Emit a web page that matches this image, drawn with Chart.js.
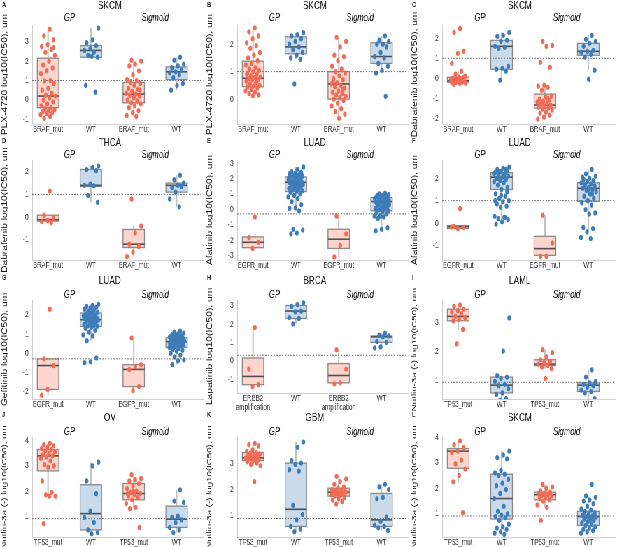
<!DOCTYPE html>
<html>
<head>
<meta charset="utf-8">
<script src="https://cdn.jsdelivr.net/npm/chart.js@4.4.0/dist/chart.umd.min.js"></script>
<style>
  body { margin: 0; background: #fff; overflow: hidden; }
  /* the figure is drawn wide and squeezed horizontally, like the source image */
  #wrap { position: absolute; left: 0; top: 0; width: 882px; height: 547px; transform: scaleX(0.6996); transform-origin: 0 0; }
  #wrap canvas { position: absolute; }
</style>
</head>
<body>
<div id="wrap"></div>
<script>
const panelLetters = ['A', 'B', 'C', 'D', 'E', 'F', 'G', 'H', 'I', 'J', 'K', 'L'];
const panelTitles = ['SKCM', 'SKCM', 'SKCM', 'THCA', 'LUAD', 'LUAD', 'LUAD', 'BRCA', 'LAML', 'OV', 'GBM', 'SKCM'];
const yTitles = [
  'PLX-4720 log10(IC50), um', 'PLX-4720 log10(IC50), um',
  'Dabrafenib log10(IC50), um', 'Dabrafenib log10(IC50), um',
  'Afatinib log10(IC50), um', 'Afatinib log10(IC50), um',
  'Gefitinib log10(IC50), um', 'Lapatinib log10(IC50), um',
  'Nutlin-3a (-) log10(IC50), um', 'Nutlin-3a (-) log10(IC50), um',
  'Nutlin-3a (-) log10(IC50), um', 'Nutlin-3a (-) log10(IC50), um'
];
const refLevels = [1, 1, 1, 1, -0.3, 1, -0.3, 0.3, 0.92, 0.9, 0.9, 0.92];
const yRanges = [
  [-1.24, 3.86], [-0.91, 2.7], [-2.3, 2.67], [-1.9, 2.52],
  [-3.3, 3.2], [-1.66, 2.82], [-2.4, 2.78], [-1.75, 3.3],
  [0.34, 3.77], [0.17, 4.15], [0.2, 3.99], [0.1, 4.0]
];
const facetNames = ['GP', 'Sigmoid'];
const brafLabels = ['BRAF_mut', 'WT', 'BRAF_mut', 'WT'];
const egfrLabels = ['EGFR_mut', 'WT', 'EGFR_mut', 'WT'];
const erbb2Labels = [['ERBB2', 'amplification'], 'WT', ['ERBB2', 'amplification'], 'WT'];
const tp53Labels = ['TP53_mut', 'WT', 'TP53_mut', 'WT'];
const xLabelSets = [brafLabels, brafLabels, brafLabels, brafLabels, egfrLabels, egfrLabels, egfrLabels,
  erbb2Labels, tp53Labels, tp53Labels, tp53Labels, tp53Labels];

// box stats per group: [lower whisker, q1, median, q3, upper whisker]
const boxesA = [[-0.9, -0.4, 0.2, 2.15, 3.65], [2.2, 2.2, 2.55, 2.8, 3.7], [-0.85, -0.15, 0.3, 0.9, 2.05], [0.5, 1.05, 1.45, 1.7, 2.2]];
const boxesB = [[0.12, 0.45, 0.76, 1.38, 2.6], [1.45, 1.65, 1.9, 2.27, 2.42], [-0.7, 0.0, 0.55, 1.0, 2.25], [0.95, 1.3, 1.55, 2.05, 2.3]];
const boxesC = [[-0.3, -0.2, -0.13, 0.05, 0.35], [-0.1, 0.45, 1.6, 1.9, 2.3], [-2.05, -1.5, -1.35, -0.8, -0.35], [0.4, 1.15, 1.35, 1.75, 2.15]];
const boxesD = [[-0.25, -0.18, -0.12, 0.08, 0.08], [0.65, 1.35, 1.4, 2.1, 2.25], [-1.75, -1.35, -1.2, -0.55, -0.4], [0.45, 1.1, 1.4, 1.5, 1.85]];
const boxesE = [[-2.55, -2.5, -2.15, -1.8, -1.8], [-0.1, 1.15, 1.75, 2.1, 2.75], [-3.1, -2.55, -1.95, -1.3, -0.45], [-1.3, -0.1, 0.5, 0.75, 1.05]];
const boxesF = [[-0.25, -0.25, -0.17, -0.12, -0.12], [-0.05, 1.5, 2.05, 2.25, 2.5], [-1.5, -1.45, -1.15, -0.6, 0.35], [-0.4, 0.97, 1.55, 1.8, 2.4]];
const boxesG = [[-2.2, -1.9, -0.65, -0.3, -0.3], [0.65, 1.4, 1.75, 2.1, 2.55], [-1.95, -1.75, -0.85, -0.6, 0.8], [-0.6, 0.3, 0.6, 0.8, 1.15]];
const boxesH = [[-1.4, -1.3, -0.85, 0.15, 1.8], [2.0, 2.3, 2.7, 3.0, 3.15], [-1.25, -1.2, -0.8, -0.15, 0.6], [0.7, 1.0, 1.3, 1.35, 1.5]];
const boxesI = [[2.75, 3.05, 3.2, 3.45, 3.6], [0.3, 0.55, 0.82, 1.1, 1.15], [1.4, 1.5, 1.55, 1.7, 2.05], [0.25, 0.6, 0.82, 0.9, 1.35]];
const boxesJ = [[1.8, 2.8, 3.4, 3.65, 3.9], [0.3, 0.45, 1.1, 2.25, 3.15], [1.3, 1.65, 1.9, 2.3, 2.65], [0.35, 0.55, 0.88, 1.4, 2.05]];
const boxesK = [[2.9, 3.1, 3.2, 3.4, 3.75], [0.4, 0.6, 1.25, 3.0, 3.8], [1.45, 1.75, 1.9, 2.05, 2.5], [0.45, 0.6, 0.85, 1.85, 2.2]];
const boxesL = [[2.25, 2.78, 3.45, 3.55, 3.85], [0.2, 0.8, 1.6, 2.55, 3.45], [1.25, 1.55, 1.75, 1.85, 2.15], [0.25, 0.55, 0.9, 1.1, 1.7]];

// cell line values per group: mut (GP), WT (GP), mut (Sigmoid), WT (Sigmoid)
const pointsA = [
  [3.65, 3.3, 3.1, 2.85, 2.75, 2.6, 2.45, 2.3, 2.0, 1.8, 1.65, 1.5, 1.35, 1.0, 0.98, 0.85, 0.6, 0.5, 0.35, 0.25, 0.2, 0.1, 0.0, -0.1, -0.2, -0.3, -0.4, -0.45, -0.5, -0.55, -0.6, -0.65, -0.7, -0.75, -0.85, -0.95, 2.7],
  [3.7, 3.1, 2.95, 2.8, 2.65, 2.55, 2.45, 2.3, 2.2, 2.25, 0.75, 0.4],
  [2.05, 2.0, 1.85, 1.75, 1.5, 1.3, 1.05, 1.0, 0.95, 0.85, 0.75, 0.6, 0.55, 0.45, 0.35, 0.3, 0.25, 0.2, 0.1, 0.0, -0.05, -0.15, -0.2, -0.3, -0.4, -0.55, -0.65, -0.8, -0.85, 0.9, 0.5, 0.15],
  [2.2, 2.05, 1.85, 1.75, 1.65, 1.55, 1.45, 1.4, 1.3, 1.15, 0.85, 0.75, 0.5]
];
const pointsB = [
  [2.6, 2.45, 2.3, 2.2, 2.05, 1.95, 1.85, 1.7, 1.6, 1.5, 1.4, 1.3, 1.25, 1.15, 1.1, 1.05, 1.0, 0.95, 0.9, 0.85, 0.8, 0.78, 0.75, 0.72, 0.7, 0.65, 0.6, 0.55, 0.5, 0.48, 0.45, 0.4, 0.35, 0.3, 0.25, 0.2, 0.15, 0.12, 0.9, 0.65],
  [2.42, 2.35, 2.3, 2.2, 2.1, 2.0, 1.9, 1.8, 1.7, 1.6, 1.5, 1.45, 0.55],
  [2.25, 2.1, 1.9, 1.6, 1.55, 1.4, 1.2, 1.1, 1.0, 0.95, 0.85, 0.75, 0.7, 0.6, 0.55, 0.5, 0.45, 0.4, 0.3, 0.25, 0.2, 0.15, 0.1, 0.05, 0.0, -0.05, -0.15, -0.25, -0.35, -0.45, -0.55, -0.7, 0.65, 0.35],
  [2.3, 2.15, 2.1, 2.0, 2.0, 1.9, 1.7, 1.55, 1.5, 1.3, 1.2, 1.05, 0.95, 0.1]
];
const pointsC = [
  [2.5, 2.3, 1.35, 1.25, 0.75, 0.35, 0.2, 0.1, 0.05, 0.0, 0.0, -0.05, -0.05, -0.1, -0.1, -0.15, -0.15, -0.2, -0.2, -0.2, -0.25, -0.25, -0.3, 0.02, -0.12, -0.18, -0.08, -0.22],
  [2.3, 2.15, 2.1, 1.9, 1.85, 1.6, 1.55, 1.5, 0.6, 0.5, 0.45, 0.35, -0.1],
  [1.85, 1.65, 1.6, 0.8, 0.55, -0.35, -0.4, -0.45, -0.6, -0.9, -0.95, -1.05, -1.1, -1.15, -1.2, -1.25, -1.3, -1.35, -1.4, -1.45, -1.5, -1.55, -1.6, -1.7, -1.75, -1.85, -1.95, -2.05, -1.0, -1.3],
  [2.15, 1.95, 1.85, 1.75, 1.6, 1.4, 1.35, 1.3, 1.2, 1.05, 0.4, -0.05]
];
const pointsD = [
  [1.15, 0.08, -0.05, -0.15, -0.2, -0.25],
  [2.25, 2.2, 2.1, 2.05, 1.45, 1.4, 1.38, 0.95, 0.65],
  [0.8, -0.4, -0.7, -1.2, -1.3, -1.55, -1.75],
  [1.85, 1.65, 1.5, 1.4, 1.3, 1.35, 1.1, 0.8, 0.45]
];
const pointsE = [
  [-0.5, -1.85, -2.15, -2.55],
  [2.75, 2.6, 2.45, 2.4, 2.35, 2.3, 2.25, 2.2, 2.15, 2.1, 2.05, 2.0, 1.95, 1.9, 1.85, 1.8, 1.78, 1.75, 1.72, 1.7, 1.65, 1.6, 1.55, 1.5, 1.45, 1.4, 1.35, 1.3, 1.25, 1.2, 1.15, 1.1, 1.0, 0.9, 0.8, 0.7, 0.5, 0.3, 0.1, 0.05, -0.1, -1.3, -1.35, -1.55, -1.6, 1.95, 1.85, 2.0, 1.7, 1.8, 2.2],
  [-0.45, -1.6, -2.35, -3.1],
  [1.05, 1.0, 0.95, 0.9, 0.85, 0.8, 0.75, 0.7, 0.65, 0.6, 0.55, 0.5, 0.45, 0.4, 0.35, 0.3, 0.25, 0.2, 0.15, 0.1, 0.05, 0.0, -0.05, -0.1, -0.15, -0.2, -0.3, -0.4, -0.45, -0.5, -0.6, -1.2, -1.3, -1.4, 0.8, 0.7, 0.6, 0.5, 0.9, 0.3, -0.45, -0.4]
];
const pointsF = [
  [0.65, -0.15, -0.2, -0.25, -0.18],
  [2.5, 2.45, 2.4, 2.35, 2.3, 2.25, 2.2, 2.15, 2.1, 2.05, 2.0, 1.95, 1.9, 1.85, 1.8, 1.7, 1.6, 1.5, 1.3, 1.2, 1.1, 1.0, 0.95, 0.85, 0.75, 0.7, 0.3, 0.25, 0.2, 0.15, 0.05, -0.05, 2.4, 2.3, 2.2, 2.1, 2.0, 1.4, 1.25, 1.0, 0.25],
  [0.35, -0.9, -1.5, -1.5],
  [2.4, 2.2, 2.1, 2.0, 1.95, 1.9, 1.85, 1.8, 1.75, 1.7, 1.65, 1.6, 1.55, 1.5, 1.45, 1.4, 1.3, 1.2, 1.1, 1.0, 0.9, 0.8, 0.6, 0.45, 0.4, -0.2, -0.25, -0.4, -0.65, -0.7, 1.7, 1.6, 1.5, 2.05, 1.3]
];
const pointsG = [
  [2.3, -0.3, -0.65, -1.9, -2.2],
  [2.55, 2.5, 2.45, 2.4, 2.35, 2.3, 2.25, 2.2, 2.15, 2.1, 2.05, 2.0, 1.98, 1.95, 1.9, 1.88, 1.85, 1.82, 1.8, 1.78, 1.75, 1.72, 1.7, 1.65, 1.6, 1.55, 1.5, 1.45, 1.42, 1.4, 1.35, 1.3, 1.2, 1.1, 0.95, 0.9, 0.65, -0.25, -0.45, -0.5, 2.0, 1.9, 1.8, 1.7],
  [0.8, -0.6, -0.7, -0.85, -1.75, -1.95],
  [1.15, 1.1, 1.05, 1.0, 0.95, 0.9, 0.88, 0.85, 0.82, 0.8, 0.78, 0.75, 0.72, 0.7, 0.68, 0.65, 0.62, 0.6, 0.58, 0.55, 0.52, 0.5, 0.48, 0.45, 0.42, 0.4, 0.38, 0.35, 0.3, 0.25, 0.2, 0.15, 0.1, 0.0, -0.1, -0.2, -0.35, -0.4, -0.6, 0.7, 0.6, 0.5]
];
const pointsH = [
  [1.8, -0.45, -1.3, -1.4],
  [3.15, 3.05, 2.95, 2.7, 2.65, 2.35, 2.3, 2.0],
  [0.6, -0.45, -1.2, -1.25],
  [1.5, 1.4, 1.35, 1.3, 1.05, 1.0, 0.75, 0.7]
];
const pointsI = [
  [3.6, 3.55, 3.45, 3.4, 3.35, 3.3, 3.2, 3.15, 3.1, 3.05, 2.75, 2.25],
  [3.15, 2.0, 1.15, 1.1, 1.05, 0.95, 0.85, 0.8, 0.7, 0.55, 0.5, 0.35, 0.3],
  [2.05, 1.95, 1.8, 1.7, 1.65, 1.6, 1.55, 1.5, 1.45, 1.4, 1.05],
  [1.35, 1.1, 0.95, 0.9, 0.85, 0.8, 0.75, 0.65, 0.6, 0.55, 0.35, 0.25]
];
const pointsJ = [
  [3.9, 3.85, 3.8, 3.75, 3.7, 3.65, 3.6, 3.55, 3.5, 3.45, 3.4, 3.35, 3.3, 3.2, 3.05, 3.0, 2.95, 2.4, 1.95, 1.85, 1.8, 1.8, 0.7],
  [3.15, 3.0, 2.4, 1.9, 1.2, 0.95, 0.75, 0.45, 0.35, 0.3],
  [2.65, 2.5, 2.45, 2.4, 2.3, 2.2, 2.1, 2.0, 1.95, 1.9, 1.85, 1.8, 1.75, 1.65, 1.5, 1.35, 1.3, 0.55, 2.0, 1.9],
  [2.05, 1.6, 1.55, 1.0, 0.95, 0.85, 0.75, 0.55, 0.45, 0.35]
];
const pointsK = [
  [3.75, 3.7, 3.65, 3.5, 3.45, 3.4, 3.38, 3.35, 3.3, 3.28, 3.25, 3.22, 3.2, 3.18, 3.15, 3.12, 3.1, 3.05, 3.0, 2.95, 2.9, 2.3, 3.3, 3.2],
  [3.8, 3.6, 3.1, 3.0, 2.95, 2.75, 2.7, 1.4, 1.05, 0.85, 0.6, 0.5, 0.4],
  [2.5, 2.4, 2.3, 2.2, 2.1, 2.05, 2.0, 1.98, 1.95, 1.92, 1.9, 1.88, 1.85, 1.82, 1.8, 1.78, 1.75, 1.7, 1.65, 1.6, 1.55, 1.45, 1.9, 1.85],
  [2.2, 2.1, 2.0, 1.7, 1.65, 0.95, 0.8, 0.65, 0.6, 0.55, 0.45]
];
const pointsL = [
  [3.85, 3.7, 3.6, 3.45, 3.4, 3.1, 2.95, 2.75, 2.5, 2.25, 1.05],
  [3.45, 3.3, 3.2, 3.15, 2.7, 2.6, 2.55, 2.5, 2.35, 2.2, 2.1, 1.95, 1.8, 1.6, 1.3, 1.1, 1.0, 0.95, 0.9, 0.85, 0.75, 0.6, 0.5, 0.45, 0.4, 0.3, 0.25, 0.2],
  [2.15, 2.05, 2.0, 1.9, 1.85, 1.8, 1.78, 1.75, 1.72, 1.7, 1.65, 1.6, 1.55, 1.5, 1.35, 1.25, 0.75],
  [2.15, 1.7, 1.65, 1.55, 1.5, 1.4, 1.3, 1.2, 1.15, 1.1, 1.05, 1.0, 0.95, 0.92, 0.9, 0.88, 0.85, 0.8, 0.75, 0.7, 0.65, 0.6, 0.55, 0.5, 0.45, 0.4, 0.35, 0.3, 0.25, 0.8, 0.9, 1.0]
];

const panelBoxes = [boxesA, boxesB, boxesC, boxesD, boxesE, boxesF, boxesG, boxesH, boxesI, boxesJ, boxesK, boxesL];
const panelPoints = [pointsA, pointsB, pointsC, pointsD, pointsE, pointsF, pointsG, pointsH, pointsI, pointsJ, pointsK, pointsL];

const mutColor = '#F26B55';
const wtColor = '#3D7CB8';
const mutFill = '#FDD5CD';
const wtFill = '#C8DAEC';
const FONT = '"Liberation Sans", Arial, sans-serif';

const colLeft = [0, 293, 586];
const colWidth = [293, 293, 296];
const rowTop = [0, 136, 273, 410];
const rowHeight = [136, 137, 137, 137];
const plotTop = [25, 24, 27, 27];
const titleY = [6, 7, 8, 8];
const facetY = [18, 19, 22, 22];
const xAxisHeight = [12, 13, 11, 10];
const EXT = 16; // canvases overlap their neighbours so long axis titles are not cut

const wrap = document.getElementById('wrap');

// fixed jitter so that the picture is the same each time
const jitter = (g, i) => ((((i + 1) * 0.6180339887 + g * 0.37) % 1) - 0.5) * 0.36;

const makePanel = (p) => {
  const row = Math.floor(p / 3), col = p % 3;
  const canvas = document.createElement('canvas');
  canvas.width = colWidth[col];
  canvas.height = rowHeight[row] + 2 * EXT;
  canvas.style.left = colLeft[col] + 'px';
  canvas.style.top = (rowTop[row] - EXT) + 'px';
  wrap.appendChild(canvas);

  const boxes = panelBoxes[p];
  const labels = xLabelSets[p];
  const xh = (p === 7 ? 17 : xAxisHeight[row]) + EXT;

  const datasets = panelPoints[p].map((vals, g) => ({
    data: vals.map((v, i) => ({ x: g + 1 + jitter(g, i), y: v })),
    backgroundColor: g % 2 === 0 ? mutColor : wtColor,
    borderWidth: 0,
    pointRadius: 2.6,
    pointHoverRadius: 2.6,
  }));

  const boxPlugin = {
    id: 'boxes' + p,
    beforeDatasetsDraw(chart) {
      const { ctx, chartArea: a, scales: { x, y } } = chart;
      ctx.save();
      boxes.forEach((b, g) => {
        const cx = x.getPixelForValue(g + 1);
        const x0 = x.getPixelForValue(g + 0.75), x1 = x.getPixelForValue(g + 1.25);
        ctx.strokeStyle = '#c2c2c2';
        ctx.lineWidth = 2;
        ctx.beginPath();
        ctx.moveTo(cx, y.getPixelForValue(b[0])); ctx.lineTo(cx, y.getPixelForValue(b[1]));
        ctx.moveTo(cx, y.getPixelForValue(b[3])); ctx.lineTo(cx, y.getPixelForValue(b[4]));
        ctx.stroke();
        const top = y.getPixelForValue(b[3]), bot = y.getPixelForValue(b[1]);
        ctx.fillStyle = g % 2 === 0 ? mutFill : wtFill;
        ctx.fillRect(x0, top, x1 - x0, bot - top);
        ctx.strokeStyle = '#8a8a8a';
        ctx.lineWidth = 1.3;
        ctx.strokeRect(x0, top, x1 - x0, bot - top);
        ctx.strokeStyle = '#505050';
        ctx.lineWidth = 1.6;
        ctx.beginPath();
        const my = y.getPixelForValue(b[2]);
        ctx.moveTo(x0, my); ctx.lineTo(x1, my);
        ctx.stroke();
      });
      // dotted reference line
      const ry = y.getPixelForValue(refLevels[p]);
      ctx.strokeStyle = '#777';
      ctx.lineWidth = 1;
      ctx.setLineDash([2, 2]);
      ctx.beginPath();
      ctx.moveTo(a.left, ry); ctx.lineTo(a.right, ry);
      ctx.stroke();
      ctx.restore();
    },
    afterDraw(chart) {
      const { ctx, scales: { x } } = chart;
      ctx.save();
      ctx.textBaseline = 'middle';
      ctx.fillStyle = '#111';
      ctx.textAlign = 'left';
      ctx.font = 'bold 7.5px ' + FONT;
      ctx.fillText(panelLetters[p], 3, 5 + EXT);
      ctx.textAlign = 'center';
      ctx.font = '11.8px ' + FONT;
      ctx.fillText(panelTitles[p], 157, titleY[row] + EXT);
      ctx.font = 'italic 10.8px ' + FONT;
      ctx.fillText(facetNames[0], x.getPixelForValue(1.5), facetY[row] + EXT);
      ctx.fillText(facetNames[1], x.getPixelForValue(3.5), facetY[row] + EXT);
      ctx.restore();
    }
  };

  new Chart(canvas, {
    type: 'scatter',
    data: { datasets },
    options: {
      responsive: false,
      animation: false,
      layout: { padding: { top: plotTop[row] + EXT, left: 0, right: 0, bottom: 0 } },
      plugins: { legend: { display: false }, tooltip: { enabled: false } },
      scales: {
        x: {
          type: 'linear',
          min: 0.63,
          max: 4.62,
          grid: { display: false, drawTicks: false },
          border: { color: '#cfcfcf', width: 1 },
          afterBuildTicks: (s) => { s.ticks = [1, 2, 3, 4].map(v => ({ value: v })); },
          afterFit: (s) => { s.height = xh; },
          ticks: {
            autoSkip: false,
            maxRotation: 0,
            padding: 1,
            color: '#333',
            font: { family: FONT, size: 8.8, lineHeight: 1.0 },
            callback: (v, i) => labels[i],
          },
        },
        y: {
          min: yRanges[p][0],
          max: yRanges[p][1],
          grid: { display: false, drawTicks: false },
          border: { color: '#cfcfcf', width: 1 },
          afterFit: (s) => { s.width = 46; },
          ticks: {
            stepSize: 1,
            includeBounds: false,
            padding: 5,
            color: '#3d3d3d',
            font: { family: FONT, size: 9.3 },
          },
          title: {
            display: true,
            text: yTitles[p],
            color: '#111',
            padding: { top: 1, bottom: 0 },
            font: { family: FONT, size: p >= 8 ? 9.7 : 10.2 },
          },
        },
      },
    },
    plugins: [boxPlugin],
  });
};

for (let p = 0; p < 12; p++) makePanel(p);
</script>
</body>
</html>
